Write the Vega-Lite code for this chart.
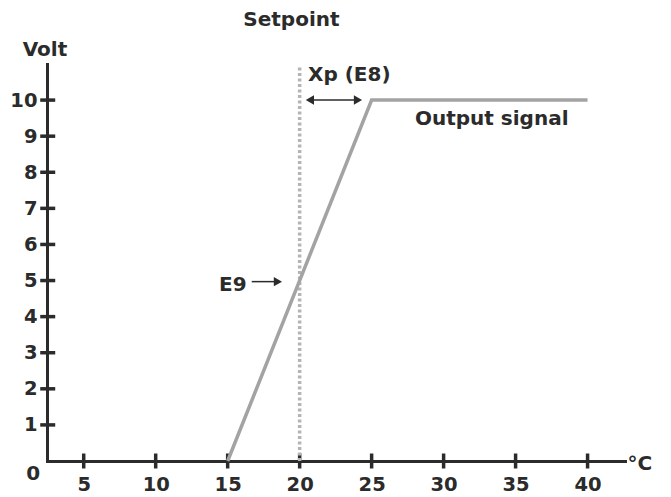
{
  "$schema": "https://vega.github.io/schema/vega-lite/v6.json",
  "autosize": {"type": "none"},
  "padding": {"left": 47, "top": 64, "right": 46, "bottom": 36},
  "width": 578,
  "height": 397,
  "background": "white",
  "config": {
    "view": {"stroke": null},
    "text": {"font": "DejaVu Sans", "fontWeight": "bold", "fontSize": 20, "color": "#2b2b2b"},
    "axis": {
      "grid": false,
      "ticks": false,
      "domainColor": "#2b2b2b",
      "domainWidth": 3,
      "domainCap": "square",
      "labelFont": "DejaVu Sans",
      "labelFontWeight": "bold",
      "labelFontSize": 19.5,
      "labelColor": "#2b2b2b",
      "labelOverlap": false,
      "titleFont": "DejaVu Sans",
      "titleFontWeight": "bold",
      "titleFontSize": 20,
      "titleColor": "#2b2b2b",
      "titleAngle": 0
    }
  },
  "layer": [
    {
      "data": {"values": [{"v": 5}, {"v": 10}, {"v": 15}, {"v": 20}, {"v": 25}, {"v": 30}, {"v": 35}, {"v": 40}]},
      "mark": {"type": "tick", "orient": "vertical", "size": 15, "thickness": 3.5, "color": "#2b2b2b", "opacity": 1},
      "encoding": {
        "x": {"field": "v", "type": "quantitative",
          "scale": {"domain": [2.45, 42.6], "nice": false, "zero": false},
          "axis": {"values": [5, 10, 15, 20, 25, 30, 35, 40], "labelPadding": 14, "labelAlign": "center",
            "title": "°C", "titleX": 580, "titleY": 8, "titleAlign": "left", "titleBaseline": "alphabetic"}},
        "y": {"datum": 0, "type": "quantitative",
          "scale": {"domain": [0, 11], "nice": false, "zero": false},
          "axis": {"values": [1, 2, 3, 4, 5, 6, 7, 8, 9, 10], "labelPadding": 10,
            "title": "Volt", "titleX": -2.5, "titleY": -9, "titleAlign": "center", "titleBaseline": "alphabetic"}}
      }
    },
    {
      "data": {"values": [{"v": 1}, {"v": 2}, {"v": 3}, {"v": 4}, {"v": 5}, {"v": 6}, {"v": 7}, {"v": 8}, {"v": 9}, {"v": 10}]},
      "mark": {"type": "tick", "orient": "horizontal", "size": 15, "thickness": 3.5, "color": "#2b2b2b", "opacity": 1},
      "encoding": {
        "y": {"field": "v", "type": "quantitative"},
        "x": {"datum": 2.5, "type": "quantitative"}
      }
    },
    {
      "data": {"values": [{"x": 20, "y0": 0, "y1": 10.97}]},
      "mark": {"type": "rule", "color": "#b4b4b4", "strokeWidth": 3.5, "strokeDash": [3, 2.5]},
      "encoding": {
        "x": {"field": "x", "type": "quantitative"},
        "y": {"field": "y0", "type": "quantitative"},
        "y2": {"field": "y1"}
      }
    },
    {
      "data": {"values": [{"t": 15, "volt": 0}, {"t": 25, "volt": 10}, {"t": 40, "volt": 10}]},
      "mark": {"type": "line", "color": "#a3a3a3", "strokeWidth": 3.5},
      "encoding": {
        "x": {"field": "t", "type": "quantitative"},
        "y": {"field": "volt", "type": "quantitative"}
      }
    },
    {
      "data": {"values": [{"x0": 20.6, "x1": 24.2, "y": 10}, {"x0": 16.67, "x1": 18.5, "y": 4.97}]},
      "mark": {"type": "rule", "color": "#2b2b2b", "strokeWidth": 1.5},
      "encoding": {
        "x": {"field": "x0", "type": "quantitative"},
        "x2": {"field": "x1"},
        "y": {"field": "y", "type": "quantitative"}
      }
    },
    {
      "data": {"values": [{"x": 24.05, "y": 10}, {"x": 18.49, "y": 4.97}]},
      "mark": {"type": "point", "shape": "triangle-right", "filled": true, "size": 90, "color": "#2b2b2b", "opacity": 1},
      "encoding": {
        "x": {"field": "x", "type": "quantitative"},
        "y": {"field": "y", "type": "quantitative"}
      }
    },
    {
      "data": {"values": [{"x": 20.71, "y": 10}]},
      "mark": {"type": "point", "shape": "triangle-left", "filled": true, "size": 90, "color": "#2b2b2b", "opacity": 1},
      "encoding": {
        "x": {"field": "x", "type": "quantitative"},
        "y": {"field": "y", "type": "quantitative"}
      }
    },
    {
      "data": {"values": [{"x": 20.58, "y": 10.52, "label": "Xp (E8)"}, {"x": 28.01, "y": 9.31, "label": "Output signal"}]},
      "mark": {"type": "text", "align": "left", "baseline": "alphabetic"},
      "encoding": {
        "x": {"field": "x", "type": "quantitative"},
        "y": {"field": "y", "type": "quantitative"},
        "text": {"field": "label"}
      }
    },
    {
      "data": {"values": [{"x": 19.43, "y": 12.05, "label": "Setpoint"}]},
      "mark": {"type": "text", "align": "center", "baseline": "alphabetic"},
      "encoding": {
        "x": {"field": "x", "type": "quantitative"},
        "y": {"field": "y", "type": "quantitative"},
        "text": {"field": "label"}
      }
    },
    {
      "data": {"values": [{"x": 16.32, "y": 4.71, "label": "E9"}, {"x": 1.97, "y": -0.53, "label": "0"}]},
      "mark": {"type": "text", "align": "right", "baseline": "alphabetic"},
      "encoding": {
        "x": {"field": "x", "type": "quantitative"},
        "y": {"field": "y", "type": "quantitative"},
        "text": {"field": "label"}
      }
    }
  ]
}
